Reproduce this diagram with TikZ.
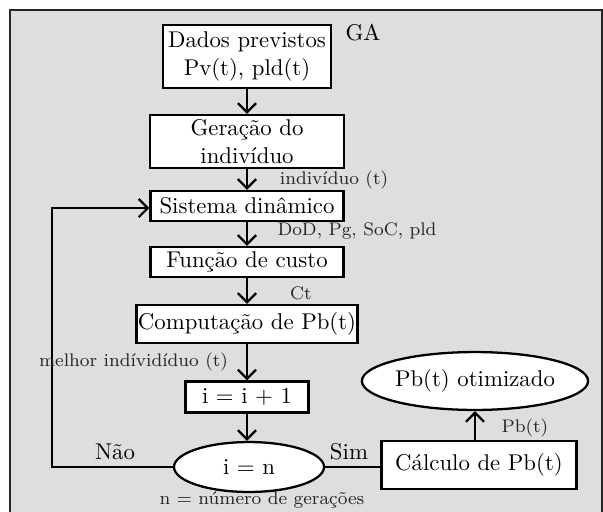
\documentclass[tikz,border=0pt]{standalone}
\usepackage{tikz}
\usetikzlibrary{arrows.meta, positioning, shapes.geometric}
\definecolor{FrameGray}{RGB}{221,222,221}

\begin{document}
\begin{tikzpicture}[
    x=0.4386pt, y=-0.4386pt,
    flow/.style={-{Straight Barb[length=4pt, width=8pt, line width=1pt]}, line width=1pt},
    bloco/.style={draw, line width=1pt, fill=white, align=center, inner sep=0pt},
    oval/.style={draw, ellipse, line width=1pt, fill=white, inner sep=0pt},
    nota/.style={font=\footnotesize, text=black!85},
]

% --- moldura cinza ---
\clip (0,0) rectangle (603,511);
\fill[white] (0,0) rectangle (603,511);
\draw[line width=0.8pt, draw=black!85, fill=FrameGray] (10,10) rectangle (602,560);

\node (ga) at (363,33) {GA};

% --- coluna principal ---
\node[bloco, minimum width=73.7pt, minimum height=27.6pt] (dados) at (247,56.5)
    {Dados previstos\\Pv(t), pld(t)};
\node[bloco, minimum width=85.1pt, minimum height=23.2pt] (geracao) at (247,141.5)
    {Gera\c{c}\~ao do\\indiv\'iduo};
\node[bloco, minimum width=84.6pt, minimum height=13.2pt] (sistema) at (247,206)
    {Sistema din\^amico};
\node[bloco, minimum width=84.6pt, minimum height=13.2pt] (funcao) at (247,262)
    {Fun\c{c}\~ao de custo};
\node[bloco, minimum width=97pt, minimum height=16.7pt] (comput) at (247,324)
    {Computa\c{c}\~ao de Pb(t)};
\node[bloco, minimum width=54pt, minimum height=13.6pt] (incr) at (247,397)
    {i $=$ i $+$ 1};
\node[oval, minimum width=65.8pt, minimum height=21.9pt] (teste) at (249,467)
    {i $=$ n};

% --- saida ---
\node[bloco, minimum width=85.5pt, minimum height=21pt] (calculo) at (479,465)
    {C\'alculo de Pb(t)};
\node[oval, minimum width=80.3pt, minimum height=25.4pt] (otimo) at (475,381)
    {Pb(t) otimizado};

\draw[flow] (dados) -- (geracao);
\draw[flow] (geracao) -- (sistema);
\draw[flow] (sistema) -- (funcao);
\draw[flow] (funcao) -- (comput);
\draw[flow] (comput) -- (incr);
\draw[flow] (incr.south) -- (incr.south |- teste.north);

% laco de volta (Nao)
\coordinate (canto) at (52,467);
\draw[flow] (teste.west) -- (canto) |- ([yshift=-0.9pt]sistema.west);
\draw[line width=1pt] (teste.east) -- (teste.east -| calculo.west);
\draw[flow] (calculo.north -| otimo) -- (otimo.south);

% --- rotulos ---
\node[nota] at (334,180) {indiv\'iduo (t)};
\node[nota] at (357,231) {DoD, Pg, SoC, pld};
\node[nota] at (301,293) {Ct};
\node[nota, anchor=east] at (236,362) {melhor ind\'ivid\'iduo (t)};
\node[nota] at (525,428) {Pb(t)};
\node[nota] at (262,500) {n $=$ n\'umero de gera\c{c}\~oes};
\node at (115,452) {N\~ao};
\node at (349,452) {Sim};

\end{tikzpicture}
\end{document}
